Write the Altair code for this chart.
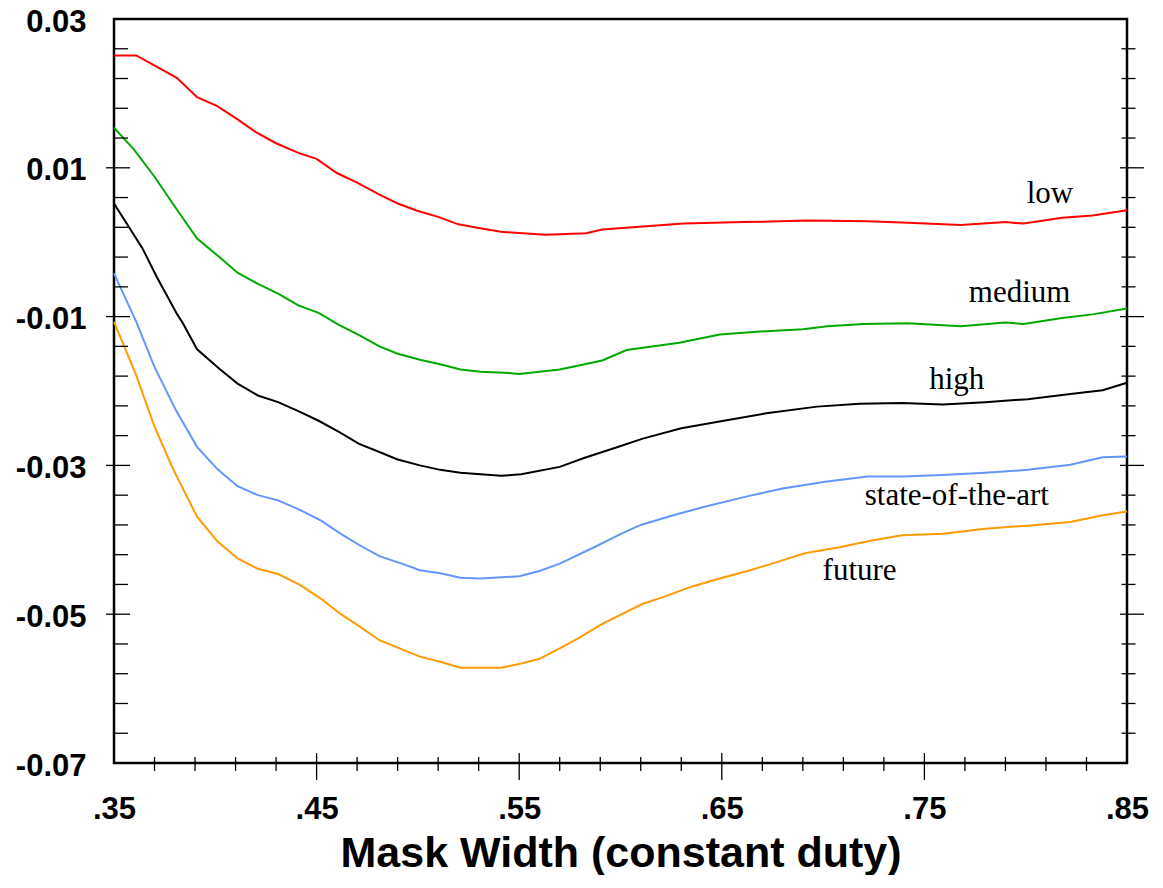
import altair as alt
import pandas as pd

# ---------------- data ----------------
series_names = ["low", "medium", "high", "state-of-the-art", "future"]
series_colors = ["#ff0000", "#00a800", "#000000", "#6495ff", "#ff9a00"]

low_x = [0.35, 0.361, 0.371, 0.381, 0.391, 0.401, 0.411, 0.420, 0.430, 0.441, 0.450,
         0.460, 0.470, 0.481, 0.490, 0.500, 0.510, 0.520, 0.530, 0.541, 0.563, 0.583,
         0.591, 0.611, 0.631, 0.661, 0.692, 0.722, 0.742, 0.768, 0.790, 0.799, 0.818,
         0.833, 0.85]
low_y = [0.0251, 0.0251, 0.0236, 0.0221, 0.0195, 0.0183, 0.0165, 0.0148, 0.0133, 0.0120,
         0.0112, 0.0093, 0.0080, 0.0064, 0.0052, 0.0042, 0.0034, 0.0024, 0.0019, 0.0014,
         0.0010, 0.0012, 0.0017, 0.0021, 0.0025, 0.0027, 0.0029, 0.0028, 0.0026, 0.0023,
         0.0027, 0.0025, 0.0033, 0.0036, 0.0043]

medium_x = [0.35, 0.360, 0.370, 0.380, 0.391, 0.402, 0.411, 0.421, 0.431, 0.441, 0.451,
            0.461, 0.471, 0.481, 0.490, 0.501, 0.511, 0.521, 0.531, 0.546, 0.550, 0.570,
            0.591, 0.603, 0.629, 0.649, 0.669, 0.690, 0.702, 0.720, 0.742, 0.768, 0.790,
            0.799, 0.818, 0.833, 0.85]
medium_y = [0.0154, 0.0124, 0.0088, 0.0048, 0.0005, -0.0020, -0.0041, -0.0056, -0.0069,
            -0.0085, -0.0095, -0.0111, -0.0125, -0.0140, -0.0150, -0.0158, -0.0164,
            -0.0171, -0.0174, -0.0176, -0.0177, -0.0171, -0.0159, -0.0145, -0.0135,
            -0.0124, -0.0120, -0.0117, -0.0113, -0.0110, -0.0109, -0.0113, -0.0108,
            -0.0110, -0.0102, -0.0097, -0.0089]

high_x = [0.35, 0.364, 0.371, 0.381, 0.384, 0.391, 0.402, 0.411, 0.421, 0.431, 0.441,
          0.451, 0.461, 0.471, 0.481, 0.490, 0.501, 0.511, 0.521, 0.531, 0.541, 0.551,
          0.570, 0.582, 0.599, 0.611, 0.630, 0.651, 0.672, 0.697, 0.718, 0.739, 0.759,
          0.780, 0.801, 0.822, 0.838, 0.85]
high_y = [0.0052, -0.0008, -0.0046, -0.0096, -0.0109, -0.0144, -0.0170, -0.0190, -0.0206,
          -0.0215, -0.0227, -0.0240, -0.0255, -0.0271, -0.0282, -0.0292, -0.0300, -0.0306,
          -0.0310, -0.0312, -0.0314, -0.0312, -0.0302, -0.0290, -0.0275, -0.0264, -0.0250,
          -0.0240, -0.0230, -0.0221, -0.0217, -0.0216, -0.0218, -0.0215, -0.0211, -0.0204,
          -0.0199, -0.0189]

state_x = [0.35, 0.361, 0.370, 0.381, 0.391, 0.401, 0.411, 0.421, 0.431, 0.442, 0.452,
           0.462, 0.471, 0.481, 0.491, 0.501, 0.511, 0.521, 0.531, 0.550, 0.560, 0.570,
           0.587, 0.601, 0.610, 0.626, 0.641, 0.662, 0.680, 0.701, 0.722, 0.739, 0.759,
           0.780, 0.801, 0.822, 0.838, 0.85]
state_y = [-0.0042, -0.0107, -0.0168, -0.0228, -0.0275, -0.0305, -0.0328, -0.0340, -0.0347,
           -0.0360, -0.0374, -0.0392, -0.0407, -0.0422, -0.0431, -0.0441, -0.0445, -0.0451,
           -0.0452, -0.0449, -0.0442, -0.0432, -0.0410, -0.0391, -0.0380, -0.0367, -0.0356,
           -0.0342, -0.0331, -0.0322, -0.0315, -0.0315, -0.0313, -0.0310, -0.0306, -0.0299,
           -0.0289, -0.0288]

future_x = [0.35, 0.361, 0.370, 0.379, 0.391, 0.401, 0.411, 0.421, 0.431, 0.442, 0.452,
            0.462, 0.471, 0.481, 0.491, 0.501, 0.511, 0.521, 0.531, 0.541, 0.550, 0.560,
            0.570, 0.580, 0.591, 0.611, 0.620, 0.635, 0.649, 0.664, 0.676, 0.691, 0.708,
            0.724, 0.739, 0.759, 0.780, 0.801, 0.822, 0.838, 0.85]
future_y = [-0.0107, -0.0179, -0.0248, -0.0304, -0.0369, -0.0402, -0.0425, -0.0439, -0.0446,
            -0.0461, -0.0479, -0.0500, -0.0516, -0.0535, -0.0546, -0.0557, -0.0564, -0.0572,
            -0.0572, -0.0572, -0.0567, -0.0560, -0.0546, -0.0531, -0.0513, -0.0486, -0.0478,
            -0.0463, -0.0452, -0.0441, -0.0431, -0.0418, -0.0410, -0.0401, -0.0394, -0.0392,
            -0.0385, -0.0381, -0.0376, -0.0367, -0.0362]

label_text = ["low", "medium", "high", "state-of-the-art", "future"]
label_x = [0.812, 0.797, 0.766, 0.766, 0.718]
label_y = [0.0065, -0.0068, -0.0185, -0.0341, -0.0442]

x_label_values = [0.35, 0.45, 0.55, 0.65, 0.75, 0.85]
y_label_values = [-0.07, -0.05, -0.03, -0.01, 0.01, 0.03]
x_major_ticks = [0.45, 0.55, 0.65, 0.75]
x_minor_ticks = [0.37, 0.39, 0.41, 0.43, 0.47, 0.49, 0.51, 0.53, 0.57, 0.59, 0.61, 0.63,
                 0.67, 0.69, 0.71, 0.73, 0.77, 0.79, 0.81, 0.83]
y_major_ticks = [0.01, -0.01, -0.03, -0.05]
y_minor_ticks = [round(-0.07 + 0.004 * k, 4) for k in range(1, 25) if k % 5 != 0]

# ---------------- build tables ----------------
rows = []
for name, xs_, ys_ in zip(series_names,
                          [low_x, medium_x, high_x, state_x, future_x],
                          [low_y, medium_y, high_y, state_y, future_y]):
    for i, (a, b) in enumerate(zip(xs_, ys_)):
        rows.append({"series": name, "x": a, "y": b, "idx": i})
df = pd.DataFrame(rows)
labels_df = pd.DataFrame({"text": label_text, "x": label_x, "y": label_y})

W, H = 1013, 744
xs = alt.Scale(domain=[0.35, 0.85], nice=False, zero=False)
ys = alt.Scale(domain=[-0.07, 0.03], nice=False, zero=False)
SANS = "Liberation Sans"

x_axis = alt.Axis(
    values=x_label_values,
    labelExpr="substring(format(datum.value, '.2f'), 1)",
    ticks=False, domain=False, grid=False, labelFlush=False, labelOverlap=False,
    labelFont=SANS, labelFontWeight="bold", labelFontSize=31, labelColor="black",
    labelPadding=31,
    title="Mask Width (constant duty)", titleFont=SANS, titleFontWeight="bold",
    titleFontSize=43, titleColor="black", titlePadding=8)
y_axis = alt.Axis(
    values=y_label_values,
    labelExpr="replace(format(datum.value, '.2f'), '\u2212', '-')",
    ticks=False, domain=False, grid=False, labelFlush=False, labelOverlap=False,
    labelFont=SANS, labelFontWeight="bold", labelFontSize=31, labelColor="black",
    labelPadding=28, labelOffset=3, title=None)


def X(field="x"):
    return alt.X(f"{field}:Q", scale=xs, axis=x_axis)


def Y(field="y"):
    return alt.Y(f"{field}:Q", scale=ys, axis=y_axis)


lines = alt.Chart(df).mark_line(strokeWidth=2).encode(
    x=X(), y=Y(),
    color=alt.Color("series:N", scale=alt.Scale(domain=series_names, range=series_colors),
                    legend=None),
    order="idx:Q",
)

texts = alt.Chart(labels_df).mark_text(
    font="Liberation Serif", fontSize=31, color="black", align="center", baseline="middle"
).encode(x=X(), y=Y(), text="text:N")


def xticks(vals, y0, y1):
    return alt.Chart(pd.DataFrame({"x": vals})).mark_rule(color="black", strokeWidth=1.3).encode(
        x=X(), y=alt.value(y0), y2=alt.value(y1))


def yticks(vals, x0, x1):
    return alt.Chart(pd.DataFrame({"y": vals})).mark_rule(color="black", strokeWidth=1.3).encode(
        y=Y(), x=alt.value(x0), x2=alt.value(x1))


tick_layers = [
    xticks(x_minor_ticks, H - 6, H + 8),
    xticks(x_major_ticks, H - 10, H + 17),
    yticks(y_minor_ticks, 0, 14),
    yticks(y_major_ticks, -8, 16),
    yticks(y_minor_ticks, W - 5.5, W + 8.5),
    yticks(y_major_ticks, W - 7, W + 17),
]

chart = alt.layer(lines, texts, *tick_layers).properties(
    width=W, height=H,
    autosize=alt.AutoSizeParams(type="none"),
    padding={"left": 106, "top": 11, "right": 28, "bottom": 112},
).configure_view(stroke="black", strokeWidth=2.5)

chart.save("out.html", embed_options={"renderer": "svg", "actions": False})
